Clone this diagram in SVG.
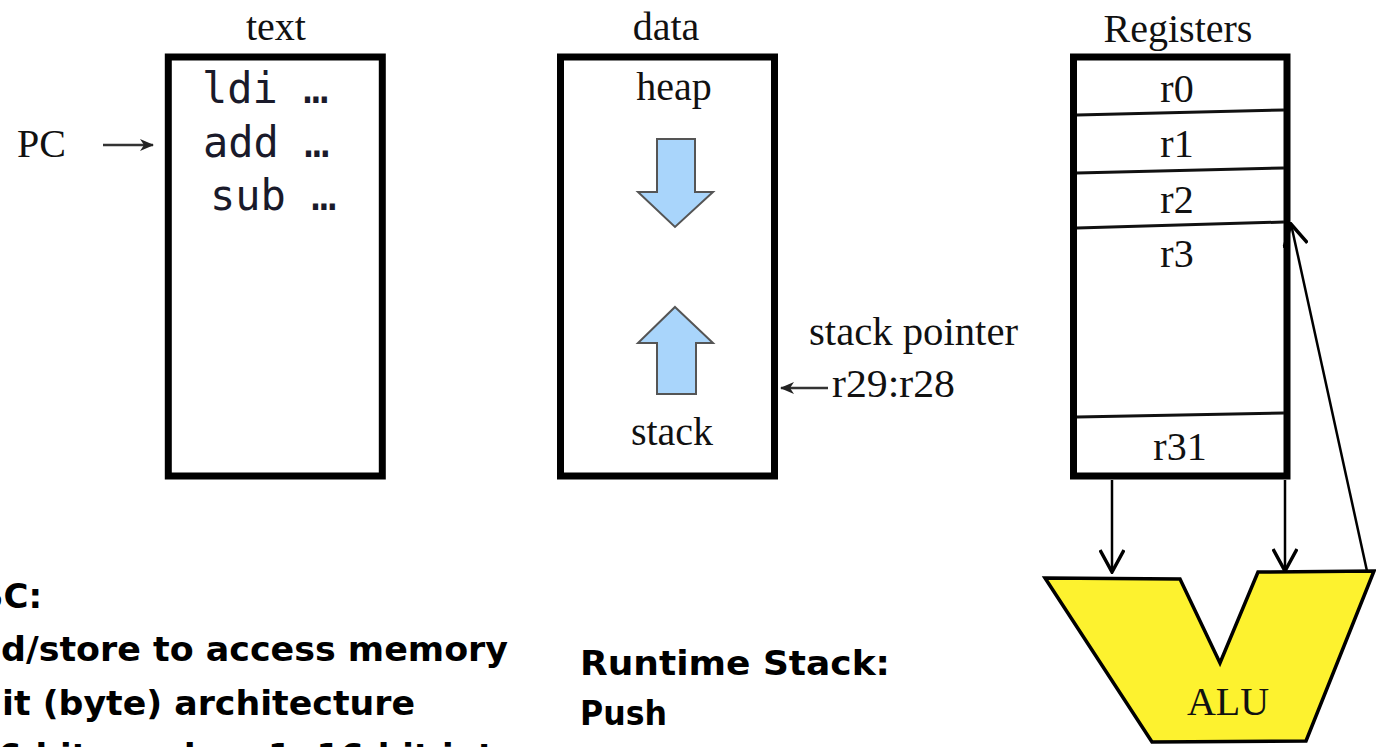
<svg xmlns="http://www.w3.org/2000/svg" width="1376" height="747" viewBox="0 0 1376 747">
<style>
.box{fill:none;stroke:#000;stroke-width:7}
.div{stroke:#111;stroke-width:3;fill:none}
.lbl{font-family:"Liberation Serif","Times New Roman",serif;font-size:40px;fill:#111}
.mid{text-anchor:middle}
.code{font-family:"DejaVu Sans Mono","Liberation Mono",monospace;font-size:42px;fill:#1a1a2a}
.note{font-family:"DejaVu Sans","Noto Sans",sans-serif;font-weight:bold;font-size:34px;fill:#000}
.blue{fill:#a9d5fb;stroke:#555;stroke-width:2}
.conn{stroke:#000;stroke-width:2.5;fill:none}
.thin{stroke:#333;stroke-width:2.5;fill:none}
</style>
<defs>
<marker id="chev" viewBox="0 0 26 26" markerWidth="26" markerHeight="26" refX="24" refY="13" orient="auto" markerUnits="userSpaceOnUse">
<path d="M2,1 L24,13 L2,25" fill="none" stroke="#000" stroke-width="3.5"/>
</marker>
<marker id="sm" viewBox="0 0 14 12" markerWidth="14" markerHeight="12" refX="13" refY="6" orient="auto" markerUnits="userSpaceOnUse">
<path d="M0,0 L14,6 L0,12 L4,6 z" fill="#222"/>
</marker>
</defs>

<g id="text-segment">
<text class="lbl mid" x="276" y="40">text</text>
<rect class="box" x="168.3" y="57" width="214" height="419"/>
<text class="code" x="202" y="103">ldi …</text>
<text class="code" x="203" y="157">add …</text>
<text class="code" x="210" y="210">sub …</text>
</g>

<g id="pc">
<text class="lbl" x="17" y="157">PC</text>
</g>

<g id="data-segment">
<text class="lbl mid" x="666" y="40">data</text>
<rect class="box" x="560.5" y="57" width="214" height="419"/>
<text class="lbl mid" x="674" y="100">heap</text>
<polygon class="blue" points="657,139 695,139 695,192 713,192 675,227 638,192 657,192"/>
<polygon class="blue" points="675,307 713,343 696,343 696,394 657,394 657,343 638,343"/>
<text class="lbl mid" x="672" y="445">stack</text>
</g>

<g id="stack-pointer">
<text class="lbl" x="809" y="345" font-size="34" textLength="209" lengthAdjust="spacingAndGlyphs">stack pointer</text>
<text class="lbl" x="832" y="397" textLength="123" lengthAdjust="spacingAndGlyphs">r29:r28</text>
</g>

<g id="registers">
<text class="lbl mid" x="1178" y="42">Registers</text>
<rect class="box" x="1073.5" y="57" width="213.5" height="419"/>
<line class="div" x1="1077" y1="115" x2="1284" y2="110"/>
<line class="div" x1="1077" y1="173" x2="1284" y2="168"/>
<line class="div" x1="1077" y1="228" x2="1284" y2="222"/>
<line class="div" x1="1077" y1="417" x2="1284" y2="413"/>
<text class="lbl mid" x="1177" y="102">r0</text>
<text class="lbl mid" x="1177" y="157">r1</text>
<text class="lbl mid" x="1177" y="213">r2</text>
<text class="lbl mid" x="1177" y="267">r3</text>
<text class="lbl mid" x="1180" y="460">r31</text>
</g>

<g id="alu">
<polygon points="1045,578 1180,579 1220,663 1258,572 1374,571 1306,741 1152,742" fill="#fdf22f" stroke="#000" stroke-width="3.5" stroke-linejoin="miter"/>
<text class="lbl mid" x="1228" y="715" fill="#1c1c10">ALU</text>
</g>

<g id="connectors">
<line class="thin" x1="103" y1="145" x2="153" y2="145" marker-end="url(#sm)"/>
<line class="thin" x1="828" y1="388" x2="781" y2="388" marker-end="url(#sm)"/>
<line class="conn" x1="1112" y1="480" x2="1112" y2="572" marker-end="url(#chev)"/>
<line class="conn" x1="1285" y1="480" x2="1285" y2="571" marker-end="url(#chev)"/>
<line class="conn" x1="1367" y1="571" x2="1291" y2="224" marker-end="url(#chev)"/>
</g>

<g id="notes">
<text class="note" x="42" y="608" text-anchor="end">SC:</text>
<text class="note" x="1" y="661" textLength="507" lengthAdjust="spacingAndGlyphs">d/store to access memory</text>
<text class="note" x="2" y="715" textLength="413" lengthAdjust="spacingAndGlyphs">it (byte) architecture</text>
<text class="note" x="494" y="768" text-anchor="end">16-bit words = 1, 16-bit int</text>
<text class="note" x="580" y="675" textLength="310" lengthAdjust="spacingAndGlyphs">Runtime Stack:</text>
<text class="note" x="580" y="725" textLength="87" lengthAdjust="spacingAndGlyphs">Push</text>
<text class="note" x="580" y="778">Pop</text>
</g>
</svg>
